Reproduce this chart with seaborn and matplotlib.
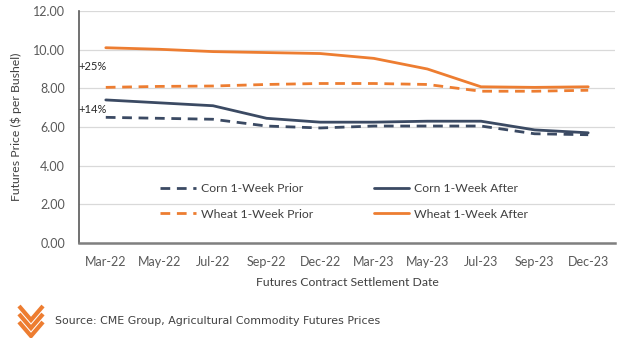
import matplotlib
matplotlib.use("Agg")
import matplotlib.pyplot as plt
import seaborn as sns
import pandas as pd
from matplotlib.lines import Line2D

months = ["Mar-22", "May-22", "Jul-22", "Sep-22", "Dec-22",
          "Mar-23", "May-23", "Jul-23", "Sep-23", "Dec-23"]
corn_prior = [6.50, 6.45, 6.40, 6.05, 5.95, 6.05, 6.05, 6.05, 5.65, 5.60]
corn_after = [7.40, 7.25, 7.10, 6.45, 6.25, 6.25, 6.30, 6.30, 5.85, 5.70]
wheat_prior = [8.05, 8.10, 8.12, 8.20, 8.25, 8.25, 8.20, 7.85, 7.85, 7.90]
wheat_after = [10.10, 10.02, 9.90, 9.85, 9.80, 9.55, 9.00, 8.08, 8.05, 8.08]
yticks = [0, 2, 4, 6, 8, 10, 12]

NAVY = "#3B4A63"
ORANGE = "#ED7D31"

sns.set_theme(style="white")
plt.rcParams['font.family'] = ['Lato', 'DejaVu Sans']

fig = plt.figure(figsize=(6.24, 3.38), dpi=100)
ax = fig.add_axes([79/624, 1-243/338, (615-79)/624, (243-11)/338])

series = [
    ("Corn 1-Week Prior", corn_prior, NAVY, (3.5, 2.4)),
    ("Wheat 1-Week Prior", wheat_prior, ORANGE, (3.5, 2.4)),
    ("Corn 1-Week After", corn_after, NAVY, None),
    ("Wheat 1-Week After", wheat_after, ORANGE, None),
]
for name, vals, col, dash in series:
    df = pd.DataFrame({"Month": months, "Price": vals})
    sns.lineplot(data=df, x="Month", y="Price", ax=ax, color=col,
                 linewidth=2.0, sort=False, label=name)
    if dash is not None:
        ax.lines[-1].set_dashes(dash)

ax.set_xlim(-0.5, len(months) - 0.5)
ax.set_ylim(0, 12)
ax.set_yticks(yticks)
ax.set_yticklabels([f"{v:.2f}" for v in yticks])
ax.yaxis.grid(True, color="#D9D9D9", linewidth=0.9)
ax.set_axisbelow(True)
for s in ["top", "right"]:
    ax.spines[s].set_visible(False)
ax.spines["left"].set_color("#595959")
ax.spines["left"].set_linewidth(1.2)
ax.spines["bottom"].set_color("#7F7F7F")
ax.spines["bottom"].set_linewidth(1.8)
ax.tick_params(axis="both", length=0, labelsize=9, labelcolor="#595959")
ax.tick_params(axis="x", pad=9)
ax.tick_params(axis="y", pad=10)
ax.set_xlabel("Futures Contract Settlement Date", fontsize=8.8, color="#404040", labelpad=7)
ax.set_ylabel("Futures Price ($ per Bushel)", fontsize=8.8, color="#404040", labelpad=8)

ax.text(-0.52, 9.15, "+25%", fontsize=8, color="#262626", va="center", ha="left",
        transform=ax.transData, clip_on=False)
ax.text(-0.52, 6.9, "+14%", fontsize=8, color="#262626", va="center", ha="left",
        transform=ax.transData, clip_on=False)

leg = ax.legend(ncol=2, loc="center", bbox_to_anchor=(0.495, 0.18), frameon=False,
                fontsize=8.8, handlelength=2.9, columnspacing=5.0, labelspacing=1.2,
                handletextpad=0.4)
for t in leg.get_texts():
    t.set_color("#404040")

# logo: orange chevrons
W, H = 624, 338
def fx(px): return px / W
def fy(py): return 1 - py / H
for dy in [0, 8, 16]:
    fig.add_artist(Line2D([fx(19), fx(31), fx(43)], [fy(306 + dy), fy(320 + dy), fy(306 + dy)],
                          color=ORANGE, linewidth=3.0, solid_capstyle="butt", solid_joinstyle="miter"))
fig.text(fx(55), fy(321), "Source: CME Group, Agricultural Commodity Futures Prices",
         fontsize=7.9, color="#404040", family="DejaVu Sans", va="center", ha="left")

fig.savefig("out.png", dpi=100)
